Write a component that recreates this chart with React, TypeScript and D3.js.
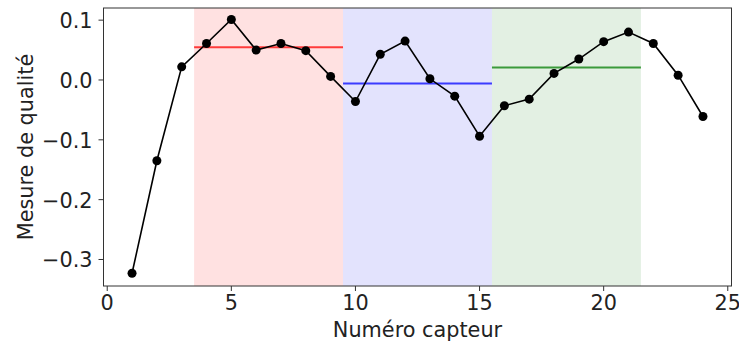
import React from "react";
import * as d3 from "d3";

const sensors = [1,2,3,4,5,6,7,8,9,10,11,12,13,14,15,16,17,18,19,20,21,22,23,24];
const quality = [-0.323,-0.135,0.022,0.061,0.101,0.050,0.061,0.049,0.006,-0.036,0.043,0.065,0.002,-0.027,-0.094,-0.043,-0.032,0.011,0.035,0.064,0.080,0.061,0.008,-0.061];
const groupStart = [3.5, 9.5, 15.5];
const groupEnd = [9.5, 15.5, 21.5];
const groupMean = [0.0548, -0.006, 0.0208];
const groupFill = ["#ffe1e1", "#e3e3fd", "#e3f0e3"];
const groupLine = ["#ff3b3b", "#3b3bff", "#3b9a3b"];
const xTicks = [0, 5, 10, 15, 20, 25];
const yTicks = [-0.3, -0.2, -0.1, 0.0, 0.1];

const W = 739, H = 345;
const L = 103.5, R = 731.5, T = 8, B = 286;

export default function App() {
  const x = d3.scaleLinear().domain([-0.15, 25.15]).range([L, R]);
  const y = d3.scaleLinear().domain([-0.3443, 0.1203]).range([B, T]);
  const line = d3.line<number>().x((_, i) => x(sensors[i])).y((d) => y(d));
  const font = "'DejaVu Sans', sans-serif";
  const fs = 20.8;
  return (
    <div style={{ position: "absolute", left: 0, top: 0 }}>
      <svg width={W} height={H} style={{ display: "block", background: "#fff" }}>
        {groupStart.map((s, i) => (
          <rect key={"r" + i} x={x(s)} y={T} width={x(groupEnd[i]) - x(s)} height={B - T} fill={groupFill[i]} />
        ))}
        {groupStart.map((s, i) => (
          <line key={"m" + i} x1={x(s)} x2={x(groupEnd[i])} y1={y(groupMean[i])} y2={y(groupMean[i])} stroke={groupLine[i]} strokeWidth={2} />
        ))}
        <path d={line(quality) || ""} fill="none" stroke="#000" strokeWidth={1.6} />
        {quality.map((v, i) => (
          <circle key={"c" + i} cx={x(sensors[i])} cy={y(v)} r={4.5} fill="#000" />
        ))}
        <rect x={L} y={T} width={R - L} height={B - T} fill="none" stroke="#333" strokeWidth={1} />
        {xTicks.map((t) => (
          <g key={"x" + t}>
            <line x1={x(t)} x2={x(t)} y1={B} y2={B + 5} stroke="#333" strokeWidth={1} />
            <text x={x(t)} y={B + 24} textAnchor="middle" fontFamily={font} fontSize={fs} fill="#222">{String(t)}</text>
          </g>
        ))}
        {yTicks.map((t) => (
          <g key={"y" + t}>
            <line x1={L - 5} x2={L} y1={y(t)} y2={y(t)} stroke="#333" strokeWidth={1} />
            <text x={L - 11} y={y(t) + 8} textAnchor="end" fontFamily={font} fontSize={fs} fill="#222">{t === 0 ? "0.0" : d3.format(".1f")(t).replace("-", "\u2212")}</text>
          </g>
        ))}
        <text x={(L + R) / 2} y={337} textAnchor="middle" fontFamily={font} fontSize={fs} fill="#222">Numéro capteur</text>
        <text transform={`translate(33, ${(T + B) / 2}) rotate(-90)`} textAnchor="middle" fontFamily={font} fontSize={fs} fill="#222">Mesure de qualité</text>
      </svg>
    </div>
  );
}
